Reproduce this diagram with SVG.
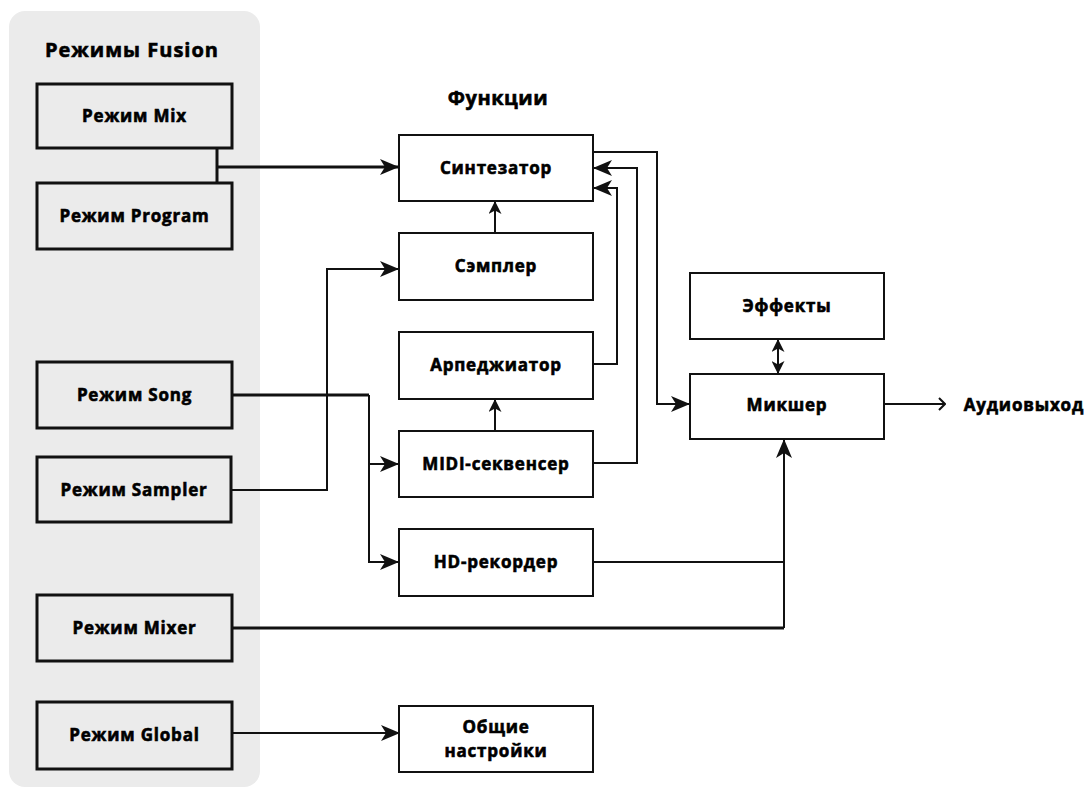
<svg xmlns="http://www.w3.org/2000/svg" width="1087" height="789" viewBox="0 0 1087 789">
<style>
text{font-family:"Open Sans","Noto Sans","DejaVu Sans",sans-serif;font-weight:700;fill:#000;stroke:#000;stroke-width:0.6;text-anchor:middle;font-size:17px;letter-spacing:0.8px}
.title{font-size:20px;letter-spacing:1px}
.mode{fill:none;stroke:#111;stroke-width:3}
.fn{fill:#fff;stroke:#111;stroke-width:2}
.c{fill:none;stroke:#111;stroke-width:2}
.ct{fill:none;stroke:#111;stroke-width:3}
</style>
<defs>
<marker id="arr" viewBox="0 0 19 16" refX="19" refY="8" markerWidth="19" markerHeight="16" markerUnits="userSpaceOnUse" orient="auto">
<path d="M0,0 L19,8 L0,16 L5,8 z" fill="#111"/>
</marker>
<marker id="arrS" viewBox="0 0 13 13" refX="13" refY="6.5" markerWidth="13" markerHeight="13" markerUnits="userSpaceOnUse" orient="auto-start-reverse">
<path d="M0,0 L13,6.5 L0,13 L3.5,6.5 z" fill="#111"/>
</marker>
<marker id="open" viewBox="0 0 8 14" refX="7" refY="7" markerWidth="8" markerHeight="14" markerUnits="userSpaceOnUse" orient="auto">
<path d="M1,1 L7,7 L1,13" fill="none" stroke="#111" stroke-width="2"/>
</marker>
</defs>
<rect x="9" y="11" width="251" height="776" rx="16" fill="#ebebeb"/>
<text class="title" x="132" y="57">Режимы Fusion</text>
<text class="title" x="498" y="105" style="letter-spacing:0.5px">Функции</text>

<g id="connectors">
<path class="ct" d="M217,148 V183"/>
<path class="ct" d="M217,167 H399" marker-end="url(#arr)"/>
<path class="c" d="M231,490 H327 V269 H399" marker-end="url(#arr)"/>
<path class="ct" d="M232,395 H369"/>
<path class="c" d="M369,395 V562 H399" marker-end="url(#arr)"/>
<path class="c" d="M369,464 H399" marker-end="url(#arr)"/>
<path class="c" d="M495,233 V201" marker-end="url(#arrS)"/>
<path class="c" d="M495,431 V399" marker-end="url(#arrS)"/>
<path class="c" d="M593,364 H617 V188 H593" marker-end="url(#arr)"/>
<path class="c" d="M593,463 H637 V168 H593" marker-end="url(#arr)"/>
<path class="c" d="M593,152 H657 V404 H690" marker-end="url(#arr)"/>
<path class="c" d="M778,339 V374" marker-start="url(#arrS)" marker-end="url(#arrS)"/>
<path class="c" d="M884,404 H945" marker-end="url(#open)"/>
<path class="c" d="M593,562 H784"/>
<path class="ct" d="M232,628 H784"/>
<path class="c" d="M784,628 V439" marker-end="url(#arr)"/>
<path class="c" d="M232,733 H400" marker-end="url(#arr)"/>
</g>

<g id="mode-mix"><rect class="mode" x="37" y="84" width="195" height="64"/><text x="134.5" y="122">Режим Mix</text></g>
<g id="mode-program"><rect class="mode" x="37" y="183" width="195" height="66"/><text x="134.5" y="222">Режим Program</text></g>
<g id="mode-song"><rect class="mode" x="37" y="362" width="195" height="66"/><text x="134.5" y="401">Режим Song</text></g>
<g id="mode-sampler"><rect class="mode" x="37" y="457" width="194" height="65"/><text x="134" y="496">Режим Sampler</text></g>
<g id="mode-mixer"><rect class="mode" x="37" y="595" width="195" height="66"/><text x="134.5" y="634">Режим Mixer</text></g>
<g id="mode-global"><rect class="mode" x="37" y="702" width="195" height="67"/><text x="134.5" y="741">Режим Global</text></g>

<g id="synth"><rect class="fn" x="399" y="135" width="194" height="66"/><text x="496" y="174">Синтезатор</text></g>
<g id="sampler"><rect class="fn" x="399" y="233" width="194" height="67"/><text x="496" y="272">Сэмплер</text></g>
<g id="arp"><rect class="fn" x="399" y="332" width="194" height="67"/><text x="496" y="371">Арпеджиатор</text></g>
<g id="midi"><rect class="fn" x="399" y="431" width="194" height="66"/><text x="496" y="470">MIDI-секвенсер</text></g>
<g id="hd"><rect class="fn" x="399" y="529" width="194" height="67"/><text x="496" y="568">HD-рекордер</text></g>
<g id="global"><rect class="fn" x="399" y="706" width="194" height="66"/><text x="496" y="733">Общие</text><text x="496" y="757">настройки</text></g>
<g id="effects"><rect class="fn" x="690" y="273" width="194" height="66"/><text x="787" y="312">Эффекты</text></g>
<g id="mixer"><rect class="fn" x="690" y="374" width="194" height="65"/><text x="787" y="411">Микшер</text></g>
<g id="audio-out"><text x="1084" y="411" style="text-anchor:end">Аудиовыход</text></g>
</svg>
